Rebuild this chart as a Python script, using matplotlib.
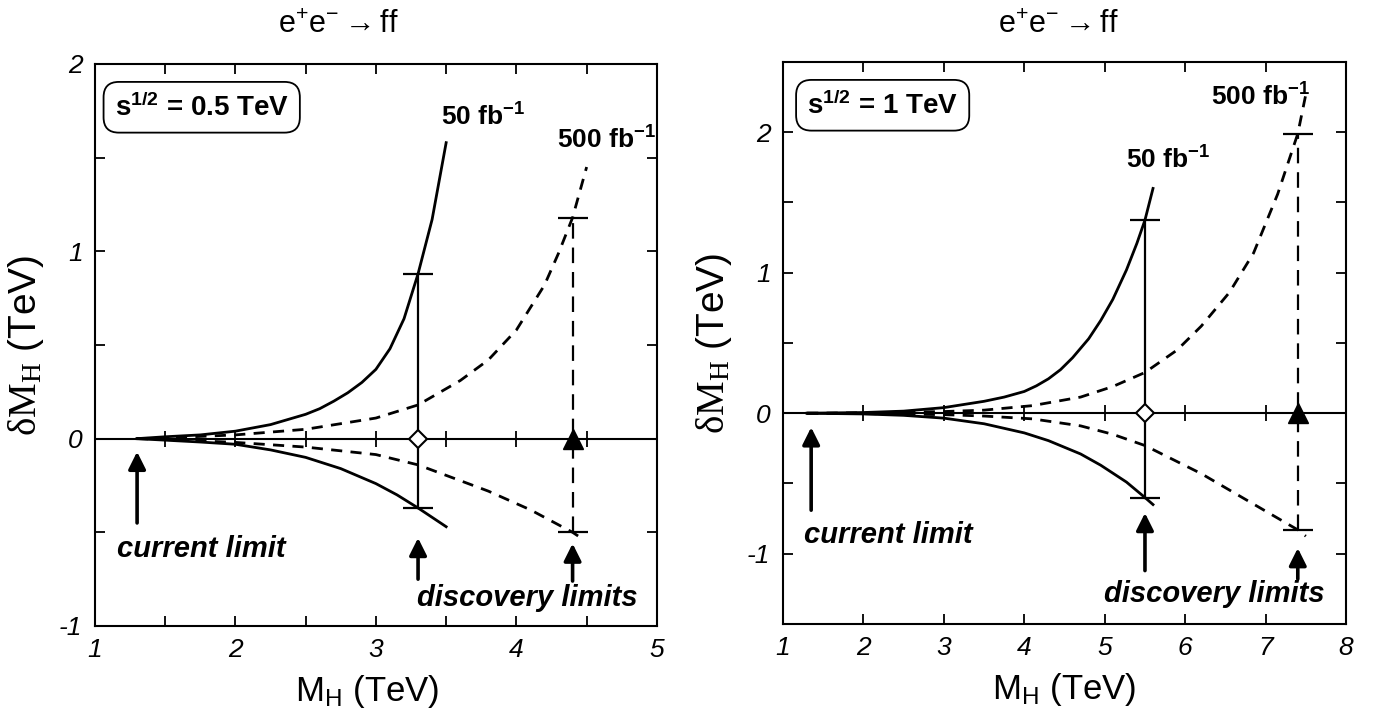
"""Higgs mass resolution from e+e- -> ff, two panels (0.5 TeV and 1 TeV)."""
import matplotlib as mpl

mpl.use("Agg")
import matplotlib.pyplot as plt
import numpy as np
from matplotlib.ticker import MultipleLocator

mpl.rcParams.update(
    {
        "font.family": "sans-serif",
        "font.sans-serif": ["Liberation Sans", "DejaVu Sans"],
        "mathtext.fontset": "custom",
        "mathtext.rm": "Liberation Serif",
        "mathtext.sf": "Liberation Sans",
        "mathtext.bf": "Liberation Sans:bold",
        "mathtext.it": "Liberation Sans:italic",
        "axes.unicode_minus": False,
        "axes.linewidth": 1.5,
    }
)

# ---- panel (a): sqrt(s) = 0.5 TeV ----
A_X_50_UP = [1.3, 1.5, 1.75, 2.0, 2.25, 2.5, 2.6, 2.7, 2.8, 2.9, 3.0, 3.1, 3.2, 3.3, 3.4, 3.5]
A_Y_50_UP = [0.0, 0.01, 0.02, 0.04, 0.075, 0.13, 0.16, 0.2, 0.245, 0.30, 0.37, 0.48, 0.64, 0.88, 1.17, 1.58]
A_X_50_LO = [1.3, 1.5, 1.75, 2.0, 2.25, 2.5, 2.75, 3.0, 3.15, 3.3, 3.5]
A_Y_50_LO = [0.0, -0.008, -0.018, -0.03, -0.06, -0.10, -0.16, -0.24, -0.30, -0.37, -0.47]
A_X_500_UP = [1.3, 1.5, 2.0, 2.5, 3.0, 3.3, 3.6, 3.8, 4.0, 4.2, 4.3, 4.4, 4.5]
A_Y_500_UP = [0.0, 0.004, 0.02, 0.05, 0.11, 0.18, 0.31, 0.42, 0.58, 0.82, 0.99, 1.18, 1.45]
A_X_500_LO = [1.3, 1.5, 2.0, 2.5, 3.0, 3.3, 3.8, 4.1, 4.3, 4.4, 4.45]
A_Y_500_LO = [0.0, -0.004, -0.02, -0.045, -0.085, -0.14, -0.28, -0.38, -0.46, -0.50, -0.525]
A_DISC_X = [3.3, 4.4]          # discovery limits (50, 500 fb-1)
A_ERR_LO = [-0.37, -0.50]
A_ERR_HI = [0.88, 1.18]
A_CURRENT = 1.3

# ---- panel (b): sqrt(s) = 1 TeV ----
B_X_50_UP = [1.3, 2.0, 2.5, 3.0, 3.5, 3.75, 4.0, 4.15, 4.3, 4.45, 4.6, 4.8, 4.95, 5.1, 5.27, 5.4, 5.5, 5.6]
B_Y_50_UP = [0.0, 0.005, 0.015, 0.04, 0.085, 0.115, 0.155, 0.195, 0.245, 0.31, 0.395, 0.53, 0.66, 0.81,
             1.02, 1.21, 1.375, 1.6]
B_X_50_LO = [1.3, 2.0, 2.5, 3.0, 3.5, 4.0, 4.3, 4.7, 4.95, 5.27, 5.5, 5.6]
B_Y_50_LO = [0.0, -0.005, -0.015, -0.035, -0.075, -0.14, -0.195, -0.29, -0.37, -0.49, -0.60, -0.65]
B_X_500_UP = [1.3, 2.0, 3.0, 3.5, 4.1, 4.7, 5.1, 5.5, 5.9, 6.2, 6.55, 6.85, 7.15, 7.4, 7.5]
B_Y_500_UP = [0.0, 0.003, 0.012, 0.022, 0.054, 0.115, 0.19, 0.29, 0.45, 0.62, 0.86, 1.14, 1.56, 1.99, 2.27]
B_X_500_LO = [1.3, 2.0, 3.0, 3.5, 4.1, 4.7, 5.1, 5.5, 6.2, 6.8, 7.4, 7.5]
B_Y_500_LO = [0.0, -0.003, -0.01, -0.02, -0.04, -0.09, -0.15, -0.23, -0.43, -0.63, -0.83, -0.875]
B_DISC_X = [5.5, 7.4]
B_ERR_LO = [-0.60, -0.83]
B_ERR_HI = [1.375, 1.99]
B_CURRENT = 1.35

SHORT_DASH = (0, (4, 3))
LONG_DASH = (0, (7, 4))
BOLD_IT = dict(fontsize=21, fontweight="bold", fontstyle="italic")
BOLD = dict(fontsize=19, fontweight="bold")


def arrow(ax, x, y0, y1):
    ax.annotate(
        "", xy=(x, y1), xytext=(x, y0),
        arrowprops=dict(arrowstyle="-|>", lw=2.6, color="black",
                        mutation_scale=26, shrinkA=0, shrinkB=0),
    )


def panel(ax, d, xlim, ylim, xminor, zero_step, box_txt, lab):
    ax.set_xlim(*xlim)
    ax.set_ylim(*ylim)
    ax.axhline(0, color="black", lw=1.5, zorder=1)
    zt = np.arange(xlim[0] + zero_step, xlim[1], zero_step)
    ax.plot(zt, np.zeros_like(zt), ls="none", marker="|", ms=11, mew=1.3, color="black")

    ax.plot(d["x50u"], d["y50u"], color="black", lw=2.0)
    ax.plot(d["x50l"], d["y50l"], color="black", lw=2.0)
    ax.plot(d["x500u"], d["y500u"], color="black", lw=2.0, ls=SHORT_DASH)
    ax.plot(d["x500l"], d["y500l"], color="black", lw=2.0, ls=SHORT_DASH)

    # error bars at the discovery limits
    for i, ls in enumerate(["-", LONG_DASH]):
        xx = [d["disc"][i], d["disc"][i]]
        yy = [d["lo"][i], d["hi"][i]]
        ax.plot(xx, yy, color="black", lw=1.6, ls=ls)
        ax.plot(xx, yy, ls="none", marker="_", ms=21, mew=1.6, color="black")
    ax.plot(d["disc"][0], 0, marker="D", ms=9, mfc="white", mec="black", mew=1.5, zorder=5)
    ax.plot(d["disc"][1], 0, marker="^", ms=15, mfc="black", mec="black", zorder=5)

    for key, val in lab.items():
        if key == "cur":
            arrow(ax, d["cur"], val[0], val[1])
            ax.text(val[2], val[3], "current limit", ha="left", va="center", **BOLD_IT)
        elif key == "disc":
            for x, (y0, y1) in zip(d["disc"], val[0]):
                arrow(ax, x, y0, y1)
            ax.text(val[1], val[2], "discovery limits", ha="left", va="center", **BOLD_IT)
        elif key == "l50":
            ax.text(val[0], val[1], r"50 fb$^{\mathbf{-1}}$", ha="left", va="baseline", **BOLD)
        elif key == "l500":
            ax.text(val[0], val[1], r"500 fb$^{\mathbf{-1}}$", ha="left", va="baseline", **BOLD)

    ax.text(box_txt[1], 0.923, box_txt[0], transform=ax.transAxes, ha="center", va="center",
            bbox=dict(boxstyle="round,pad=0.4,rounding_size=0.55", fc="white", ec="black", lw=1.3),
            fontsize=20, fontweight="bold")

    ax.xaxis.set_major_locator(MultipleLocator(1))
    if xminor:
        ax.xaxis.set_minor_locator(MultipleLocator(0.5))
    ax.yaxis.set_major_locator(MultipleLocator(1))
    ax.yaxis.set_minor_locator(MultipleLocator(0.5))
    ax.tick_params(which="both", direction="in", top=True, right=True,
                   length=7, width=1.3, labelsize=19, pad=9)
    for t in ax.get_xticklabels() + ax.get_yticklabels():
        t.set_fontstyle("italic")

    ax.set_xlabel(r"$\mathsf{M}_\mathsf{H}$ (TeV)", fontsize=25)
    ax.set_ylabel(r"$\mathrm{\delta M_H}$ (TeV)", fontsize=28)
    ax.yaxis.set_label_coords(-0.087, 0.5)


fig = plt.figure(figsize=(13.8, 7.15), dpi=100)
ax1 = fig.add_axes([0.0688, 0.1245, 0.4072, 0.786])
ax2 = fig.add_axes([0.5674, 0.1273, 0.408, 0.786])

panel(
    ax1,
    dict(x50u=A_X_50_UP, y50u=A_Y_50_UP, x50l=A_X_50_LO, y50l=A_Y_50_LO,
         x500u=A_X_500_UP, y500u=A_Y_500_UP, x500l=A_X_500_LO, y500l=A_Y_500_LO,
         disc=A_DISC_X, lo=A_ERR_LO, hi=A_ERR_HI, cur=A_CURRENT),
    (1, 5), (-1, 2), True, 0.5,
    (r"s$^{\mathbf{1/2}}$ = 0.5 TeV", 0.19),
    {"cur": (-0.45, -0.07, 1.16, -0.59),
     "disc": ([(-0.75, -0.53), (-0.76, -0.56)], 3.29, -0.85),
     "l50": (3.46, 1.67), "l500": (4.29, 1.55)},
)
ax1.xaxis.set_label_coords(0.484, -0.084)

panel(
    ax2,
    dict(x50u=B_X_50_UP, y50u=B_Y_50_UP, x50l=B_X_50_LO, y50l=B_Y_50_LO,
         x500u=B_X_500_UP, y500u=B_Y_500_UP, x500l=B_X_500_LO, y500l=B_Y_500_LO,
         disc=B_DISC_X, lo=B_ERR_LO, hi=B_ERR_HI, cur=B_CURRENT),
    (1, 8), (-1.5, 2.5), False, 1.0,
    (r"s$^{\mathbf{1/2}}$ = 1 TeV", 0.177),
    {"cur": (-0.69, -0.10, 1.26, -0.87),
     "disc": ([(-1.12, -0.71), (-1.18, -0.96)], 4.99, -1.29),
     "l50": (5.26, 1.74), "l500": (6.32, 2.19)},
)
ax2.xaxis.set_label_coords(0.5, -0.084)

title = r"e$^{\mathsf{+}}$e$^{\mathsf{-}}$$\rightarrow$ff"
fig.text(0.245, 0.965, title, ha="center", va="center", fontsize=22)
fig.text(0.767, 0.965, title, ha="center", va="center", fontsize=22)

fig.savefig("out.png", dpi=100)
